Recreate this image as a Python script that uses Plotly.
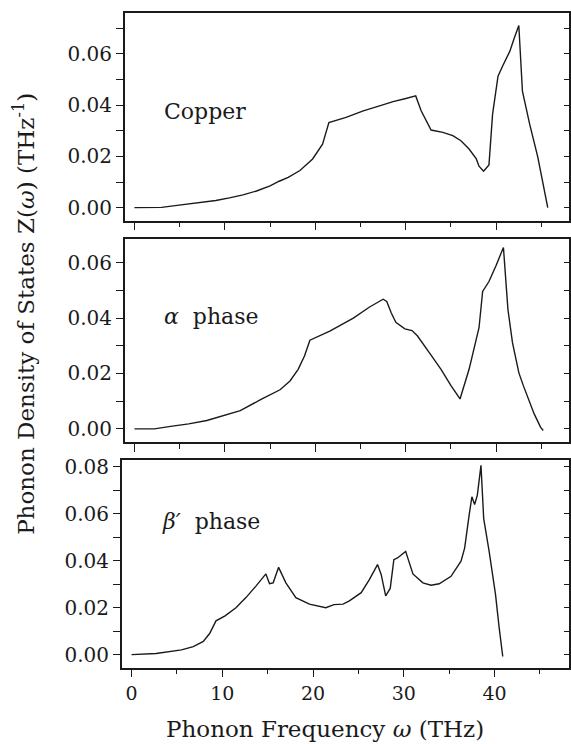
import plotly.graph_objects as go

# ---------------- data ----------------
cu_x = [0, 1.5, 3, 4.5, 6, 7.5, 9, 10.5, 12, 13.5, 15, 16, 17, 18.3, 19.7, 20.8, 21.5,
        23.4, 25.3, 27.1, 28.6, 29.9, 31.1, 31.7, 32.3, 32.8, 34.1, 35.2, 36.1, 37.0,
        37.8, 38.1, 38.6, 39.2, 39.6, 40.2, 40.7, 41.5, 42.0, 42.5, 42.9, 43.7, 44.6, 45.7]
cu_y = [0, 0, 0.0001, 0.0008, 0.0014, 0.002, 0.0028, 0.0038, 0.005, 0.0065, 0.0085,
        0.0103, 0.0118, 0.0145, 0.019, 0.0248, 0.0332, 0.0352, 0.0378, 0.0397, 0.0414,
        0.0425, 0.0436, 0.0378, 0.0339, 0.0303, 0.0294, 0.0281, 0.0261, 0.0229, 0.019,
        0.0162, 0.0142, 0.0167, 0.0365, 0.0513, 0.0552, 0.061, 0.0662, 0.0711, 0.0455,
        0.0326, 0.0197, 0.0]

al_x = [0, 2.2, 4, 6, 8, 9.3, 11.7, 14.1, 16.1, 17.2, 18.1, 18.8, 19.4, 21.6, 24.2, 26.0,
        27.5, 27.9, 28.4, 28.9, 29.9, 30.7, 31.3, 32.6, 33.9, 35.0, 36.0, 37.0, 38.1, 38.5,
        39.2, 40.0, 40.8, 41.3, 41.8, 42.5, 43.0, 44.2, 44.9, 45.2]
al_y = [0, 0, 0.0009, 0.0018, 0.003, 0.0042, 0.0066, 0.0108, 0.0141, 0.0173, 0.0215,
        0.0263, 0.032, 0.0353, 0.04, 0.044, 0.0468, 0.046, 0.0418, 0.0385, 0.0361, 0.0355,
        0.0335, 0.0275, 0.0215, 0.0156, 0.0108, 0.0215, 0.0365, 0.0496, 0.0532, 0.0591,
        0.0655, 0.043, 0.0311, 0.0203, 0.0156, 0.0054, 0.0006, -0.0006]

be_x = [0, 2.7, 5.5, 6.8, 7.9, 8.6, 9.3, 10.3, 11.5, 12.6, 13.7, 14.8, 15.2, 15.6, 16.2,
        17.0, 18.1, 19.6, 21.4, 22.3, 23.3, 24.0, 25.3, 26.2, 27.1, 27.5, 28.0, 28.5, 28.9,
        29.3, 30.2, 31.0, 32.1, 33.0, 33.9, 35.2, 36.3, 36.7, 37.2, 37.5, 37.8, 38.1, 38.5,
        38.8, 39.4, 40.1, 40.5, 40.9]
be_y = [0, 0.0005, 0.002, 0.0034, 0.0056, 0.009, 0.0144, 0.0165, 0.02, 0.0243, 0.0292,
        0.0344, 0.0302, 0.0306, 0.0372, 0.0306, 0.0243, 0.0215, 0.02, 0.0213, 0.0215,
        0.0229, 0.0264, 0.032, 0.0384, 0.0342, 0.025, 0.0282, 0.0405, 0.0412, 0.044,
        0.0344, 0.0306, 0.0296, 0.0302, 0.0334, 0.0398, 0.0454, 0.0596, 0.0673, 0.064,
        0.068, 0.0807, 0.058, 0.044, 0.0257, 0.0116, -0.0008]

panel_labels = ["Copper", "<i>α</i>  phase", "<i>β′</i>  phase"]
label_pos = [(3.0, 0.0376), (3.0, 0.0404), (3.1, 0.0567)]
x_title = "Phonon Frequency <i>ω</i> (THz)"
y_title = "Phonon Density of States Z(<i>ω</i>) (THz<sup>-1</sup>)"

# ---------------- layout geometry ----------------
W, H = 571, 744
FONT = "DejaVu Serif"
INK = "#1a1a1a"

def dx(a, b):
    return [a / W, b / W]

def dy(top, bottom):
    return [1 - bottom / H, 1 - top / H]

panels = [
    dict(xs=cu_x, ys=cu_y, xdom=dx(125, 570), ydom=dy(8, 217),
         xr=[-1.07, 48.05], yr=[-0.00504, 0.0760]),
    dict(xs=al_x, ys=al_y, xdom=dx(125, 570), ydom=dy(236, 440),
         xr=[-1.07, 48.05], yr=[-0.00477, 0.0684]),
    dict(xs=be_x, ys=be_y, xdom=dx(122, 570), ydom=dy(458, 667),
         xr=[-1.08, 48.2], yr=[-0.0055, 0.0830]),
]

fig = go.Figure()
layout = dict(
    width=W, height=H,
    margin=dict(l=0, r=0, t=0, b=0),
    paper_bgcolor="white", plot_bgcolor="white",
    showlegend=False,
    font=dict(family=FONT, color=INK, size=20),
    annotations=[],
)

for i, p in enumerate(panels):
    n = i + 1
    xa = "x" if n == 1 else f"x{n}"
    ya = "y" if n == 1 else f"y{n}"
    ra = f"y{n + 3}"
    fig.add_trace(go.Scatter(x=p["xs"], y=p["ys"], mode="lines",
                             line=dict(color=INK, width=1.4),
                             xaxis=xa, yaxis=ya, hoverinfo="skip"))
    # invisible trace so the right-hand tick axis is drawn
    fig.add_trace(go.Scatter(x=[None], y=[None], mode="lines",
                             xaxis=xa, yaxis=ra, hoverinfo="skip"))
    last = (n == 3)
    layout[f"xaxis{'' if n == 1 else n}"] = dict(
        domain=p["xdom"], anchor=ya, range=p["xr"],
        showline=True, linecolor=INK, linewidth=1.5, mirror=True,
        showgrid=False, zeroline=False,
        ticks="outside", ticklen=8, tickwidth=1.3, tickcolor=INK,
        tickmode="array", tickvals=[0, 10, 20, 30, 40],
        ticktext=["0", "10", "20", "30", "40"],
        showticklabels=last,
        tickfont=dict(family=FONT, size=19, color=INK),
        minor=dict(ticks="outside", ticklen=5, tickwidth=1.3, tickcolor=INK,
                   dtick=5, tick0=0, showgrid=False),
    )
    top = 0.08 if last else 0.06
    yt = [round(0.02 * k, 2) for k in range(int(round(top / 0.02)) + 1)]
    layout[f"yaxis{'' if n == 1 else n}"] = dict(
        domain=p["ydom"], anchor=xa, range=p["yr"],
        showline=True, linecolor=INK, linewidth=1.5, mirror=True,
        showgrid=False, zeroline=False,
        ticks="outside", ticklen=7, tickwidth=1.3, tickcolor=INK,
        tickmode="array", tickvals=yt, ticktext=[f"{v:.2f}" for v in yt],
        tickfont=dict(family=FONT, size=20, color=INK),
        minor=dict(ticks="outside", ticklen=7, tickwidth=1.3, tickcolor=INK,
                   dtick=0.01, tick0=0, showgrid=False),
    )
    layout[f"yaxis{n + 3}"] = dict(
        overlaying=ya, anchor=xa, side="right", range=p["yr"],
        showline=False, showgrid=False, zeroline=False,
        ticks="inside", ticklen=5, tickwidth=1.2, tickcolor=INK,
        tick0=0, dtick=0.01, showticklabels=False,
    )
    lx, ly = label_pos[i]
    layout["annotations"].append(dict(
        text=panel_labels[i], x=lx, y=ly, xref=xa, yref=ya,
        xanchor="left", yanchor="middle", showarrow=False,
        font=dict(family=FONT, size=22, color=INK),
    ))

layout["annotations"].append(dict(
    text=x_title, x=326 / W, y=1 - 729 / H, xref="paper", yref="paper",
    xanchor="center", yanchor="middle", showarrow=False,
    font=dict(family=FONT, size=23, color=INK),
))
layout["annotations"].append(dict(
    text=y_title, x=24 / W, y=1 - 311 / H, xref="paper", yref="paper",
    xanchor="center", yanchor="middle", showarrow=False, textangle=-90,
    font=dict(family=FONT, size=23, color=INK),
))

fig.update_layout(**layout)
fig.write_html("out.html")
